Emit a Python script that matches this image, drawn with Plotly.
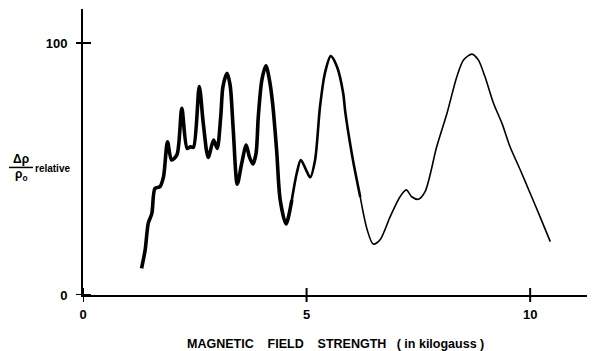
import plotly.graph_objects as go

# Magnetic field strength (kilogauss) and relative magnetoresistance
field = [1.31, 1.39, 1.46, 1.54, 1.61, 1.72, 1.80, 1.89, 1.98, 2.10,
         2.21, 2.33, 2.41, 2.47, 2.60, 2.69, 2.80, 2.92, 3.00, 3.08,
         3.13, 3.22, 3.29, 3.36, 3.45, 3.55, 3.65, 3.72, 3.80, 3.87,
         3.92, 4.00, 4.09, 4.17, 4.24, 4.33, 4.41, 4.54, 4.67, 4.78,
         4.87, 4.99, 5.08, 5.19, 5.30, 5.41, 5.54, 5.68, 5.82, 5.86,
         5.96, 6.05, 6.20, 6.35, 6.49, 6.64, 6.87, 7.09, 7.23, 7.35,
         7.50, 7.65, 7.91, 8.14, 8.36, 8.51, 8.70, 8.84, 8.99, 9.18,
         9.37, 9.55, 9.78, 10.00, 10.22, 10.45]
resistance = [10.6, 17.9, 28.5, 32.4, 42.3, 43.0, 46.9, 60.8, 53.6, 55.6,
              74.1, 58.2, 58.8, 58.6, 82.7, 68.1, 54.6, 61.5, 58.2, 70.8,
              82.7, 88.0, 83.3, 65.5, 44.0, 52.3, 59.5, 54.9, 52.0, 56.2,
              70.8, 85.3, 91.0, 85.3, 76.1, 57.5, 37.7, 28.2, 37.7, 48.3,
              53.6, 49.6, 46.7, 53.6, 74.7, 88.0, 94.8, 90.6, 80.0, 73.4,
              61.5, 52.3, 38.9, 26.2, 20.2, 21.8, 31.1, 39.0, 41.7, 39.0,
              38.0, 41.0, 58.8, 72.1, 86.6, 93.3, 95.6, 93.3, 86.6, 76.1,
              68.1, 58.8, 49.6, 40.4, 31.1, 21.2]

x_ticks = [0, 5, 10]
x_tick_labels = ["0", "5", "10"]
y_ticks = [0, 100]
y_tick_labels = ["0", "100"]

FONT = "Liberation Sans"
fig = go.Figure()

segments = [(0, 39, 3.6), (38, 53, 2.6), (52, len(field), 1.6)]
for a, b, w in segments:
    fig.add_trace(go.Scatter(
        x=field[a:b], y=resistance[a:b], mode="lines",
        line=dict(color="black", width=w, shape="spline", smoothing=0.8),
        showlegend=False, hoverinfo="skip"))

PLOT_W, PLOT_H = 512, 286
# cross-shaped tick marks drawn across the axis lines
for t in x_ticks:
    fig.add_shape(type="line", xref="x", yref="paper",
                  x0=t, x1=t, y0=-7 / PLOT_H, y1=7 / PLOT_H,
                  line=dict(color="black", width=2))
for t in y_ticks:
    fig.add_shape(type="line", xref="paper", yref="y",
                  y0=t, y1=t, x0=-7 / PLOT_W, x1=8 / PLOT_W,
                  line=dict(color="black", width=2))

axis_common = dict(showgrid=False, zeroline=False, linecolor="black", linewidth=2,
                   ticks="", showline=True, automargin=False)

# body of the page has an 8px margin: shrink the figure so the drawing lands in place
fig.update_layout(
    width=587, height=343,
    margin=dict(l=75, r=0, t=1, b=56),
    paper_bgcolor="white", plot_bgcolor="white",
    showlegend=False,
    xaxis=dict(range=[0, 11.45], tickvals=x_ticks, ticktext=x_tick_labels,
               ticklabelstandoff=6,
               tickfont=dict(family=FONT, size=13, color="black", weight="bold"),
               **axis_common),
    yaxis=dict(range=[0, 113.5], tickvals=y_ticks, ticktext=y_tick_labels,
               ticklabelstandoff=11,
               tickfont=dict(family=FONT, size=13, color="black", weight="bold"),
               **axis_common),
)

nb = "\u00a0"
title = f"MAGNETIC{nb*4}FIELD{nb*4}STRENGTH{nb*3}({nb}in kilogauss{nb})"
fig.add_annotation(text=title, xref="paper", yref="paper", x=0.494, y=-0.170,
                   showarrow=False, xanchor="center", yanchor="middle",
                   font=dict(family=FONT, size=12.5, color="black", weight="bold"))

fig.add_annotation(text="Δρ", xref="paper", yref="paper", x=-0.121, y=0.474,
                   showarrow=False, xanchor="center", yanchor="middle",
                   font=dict(family=FONT, size=12, color="black", weight="bold"))
fig.add_annotation(text="ρ<sub>o</sub>", xref="paper", yref="paper", x=-0.121, y=0.418,
                   showarrow=False, xanchor="center", yanchor="middle",
                   font=dict(family=FONT, size=12, color="black", weight="bold"))
fig.add_annotation(text="relative", xref="paper", yref="paper", x=-0.0977, y=0.444,
                   showarrow=False, xanchor="left", yanchor="middle",
                   font=dict(family=FONT, size=10, color="black", weight="bold"))
fig.add_shape(type="line", xref="paper", yref="paper", x0=-0.1445, x1=-0.0977,
              y0=0.446, y1=0.446, line=dict(color="black", width=1.5))

fig.write_html("out.html")
